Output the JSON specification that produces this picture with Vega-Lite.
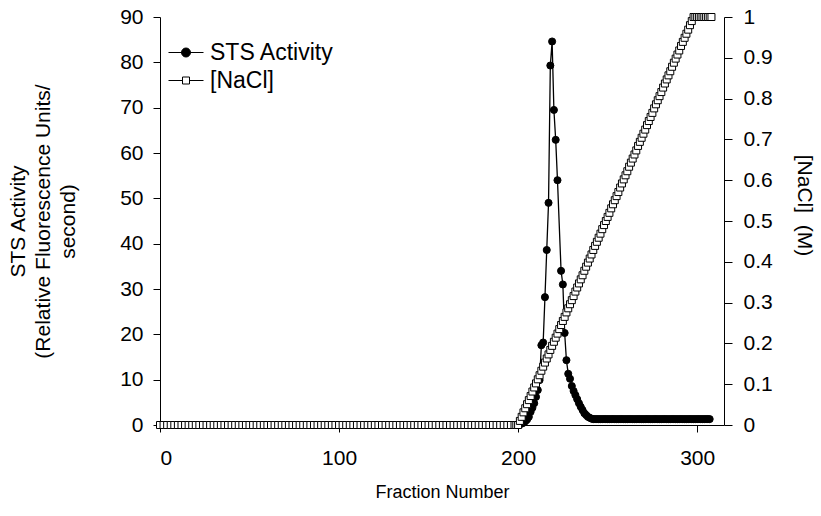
{
  "$schema": "https://vega.github.io/schema/vega-lite/v6.json",
  "width": 564,
  "height": 408,
  "autosize": "none",
  "padding": {"left": 160, "top": 17, "right": 97, "bottom": 91},
  "background": "white",
  "config": {
    "view": {"stroke": null},
    "font": "Liberation Sans",
    "axis": {
      "grid": false,
      "domainColor": "black",
      "tickColor": "black",
      "labelColor": "black",
      "titleColor": "black",
      "labelFont": "Liberation Sans",
      "titleFont": "Liberation Sans",
      "labelFontSize": 21,
      "titleFontSize": 21,
      "titleFontWeight": "normal",
      "domainWidth": 1,
      "tickWidth": 1
    },
    "legend": {
      "orient": "none",
      "title": null,
      "padding": 0,
      "labelFont": "Liberation Sans",
      "labelFontSize": 23,
      "labelColor": "black",
      "labelOffset": 12.5,
      "symbolSize": 100,
      "symbolStrokeWidth": 1,
      "symbolOpacity": 1
    }
  },
  "datasets": {
    "sts": [
      {"f":200,"s":0.1},{"f":201,"s":0.2},{"f":202,"s":0.3},{"f":203,"s":0.5},{"f":204,"s":0.8},
      {"f":205,"s":1.2},{"f":206,"s":1.8},{"f":207,"s":2.9},{"f":208,"s":3.8},{"f":209,"s":4.8},
      {"f":210,"s":6.2},{"f":211,"s":7.7},{"f":212,"s":9.9},{"f":213,"s":17.6},{"f":214,"s":18.2},
      {"f":215,"s":28.2},{"f":216,"s":38.6},{"f":217,"s":49.0},{"f":218,"s":79.3},{"f":219,"s":84.6},
      {"f":220,"s":69.5},{"f":221,"s":62.9},{"f":222,"s":54.0},{"f":224,"s":34.0},{"f":225,"s":31.0},
      {"f":226,"s":20.3},{"f":227,"s":14.3},{"f":228,"s":11.3},{"f":229,"s":10.2},{"f":230,"s":8.6},
      {"f":231,"s":7.5},{"f":232,"s":6.6},{"f":233,"s":5.7},{"f":234,"s":4.8},{"f":235,"s":4.0},
      {"f":236,"s":3.3},{"f":237,"s":2.6},{"f":238,"s":2.2},{"f":239,"s":1.8},{"f":240,"s":1.6},
      {"f":241,"s":1.4},{"f":242,"s":1.3},{"f":243,"s":1.3},{"f":244,"s":1.3},{"f":245,"s":1.3},
      {"f":246,"s":1.3},{"f":247,"s":1.3},{"f":248,"s":1.3},{"f":249,"s":1.3},{"f":250,"s":1.3},
      {"f":251,"s":1.3},{"f":252,"s":1.3},{"f":253,"s":1.3},{"f":254,"s":1.3},{"f":255,"s":1.3},
      {"f":256,"s":1.3},{"f":257,"s":1.3},{"f":258,"s":1.3},{"f":259,"s":1.3},{"f":260,"s":1.3},
      {"f":261,"s":1.3},{"f":262,"s":1.3},{"f":263,"s":1.3},{"f":264,"s":1.3},{"f":265,"s":1.3},
      {"f":266,"s":1.3},{"f":267,"s":1.3},{"f":268,"s":1.3},{"f":269,"s":1.3},{"f":270,"s":1.3},
      {"f":271,"s":1.3},{"f":272,"s":1.3},{"f":273,"s":1.3},{"f":274,"s":1.3},{"f":275,"s":1.3},
      {"f":276,"s":1.3},{"f":277,"s":1.3},{"f":278,"s":1.3},{"f":279,"s":1.3},{"f":280,"s":1.3},
      {"f":281,"s":1.3},{"f":282,"s":1.3},{"f":283,"s":1.3},{"f":284,"s":1.3},{"f":285,"s":1.3},
      {"f":286,"s":1.3},{"f":287,"s":1.3},{"f":288,"s":1.3},{"f":289,"s":1.3},{"f":290,"s":1.3},
      {"f":291,"s":1.3},{"f":292,"s":1.3},{"f":293,"s":1.3},{"f":294,"s":1.3},{"f":295,"s":1.3},
      {"f":296,"s":1.3},{"f":297,"s":1.3},{"f":298,"s":1.3},{"f":299,"s":1.3},{"f":300,"s":1.3},
      {"f":301,"s":1.3},{"f":302,"s":1.3},{"f":303,"s":1.3},{"f":304,"s":1.3},{"f":305,"s":1.3},
      {"f":306,"s":1.3},{"f":307,"s":1.3}
    ],
    "nacl": [
      {"f":0,"n":0},{"f":2,"n":0},{"f":4,"n":0},{"f":6,"n":0},{"f":8,"n":0},{"f":10,"n":0},{"f":12,"n":0},{"f":14,"n":0},{"f":16,"n":0},{"f":18,"n":0},
      {"f":20,"n":0},{"f":22,"n":0},{"f":24,"n":0},{"f":26,"n":0},{"f":28,"n":0},{"f":30,"n":0},{"f":32,"n":0},{"f":34,"n":0},{"f":36,"n":0},{"f":38,"n":0},
      {"f":40,"n":0},{"f":42,"n":0},{"f":44,"n":0},{"f":46,"n":0},{"f":48,"n":0},{"f":50,"n":0},{"f":52,"n":0},{"f":54,"n":0},{"f":56,"n":0},{"f":58,"n":0},
      {"f":60,"n":0},{"f":62,"n":0},{"f":64,"n":0},{"f":66,"n":0},{"f":68,"n":0},{"f":70,"n":0},{"f":72,"n":0},{"f":74,"n":0},{"f":76,"n":0},{"f":78,"n":0},
      {"f":80,"n":0},{"f":82,"n":0},{"f":84,"n":0},{"f":86,"n":0},{"f":88,"n":0},{"f":90,"n":0},{"f":92,"n":0},{"f":94,"n":0},{"f":96,"n":0},{"f":98,"n":0},
      {"f":100,"n":0},{"f":102,"n":0},{"f":104,"n":0},{"f":106,"n":0},{"f":108,"n":0},{"f":110,"n":0},{"f":112,"n":0},{"f":114,"n":0},{"f":116,"n":0},{"f":118,"n":0},
      {"f":120,"n":0},{"f":122,"n":0},{"f":124,"n":0},{"f":126,"n":0},{"f":128,"n":0},{"f":130,"n":0},{"f":132,"n":0},{"f":134,"n":0},{"f":136,"n":0},{"f":138,"n":0},
      {"f":140,"n":0},{"f":142,"n":0},{"f":144,"n":0},{"f":146,"n":0},{"f":148,"n":0},{"f":150,"n":0},{"f":152,"n":0},{"f":154,"n":0},{"f":156,"n":0},{"f":158,"n":0},
      {"f":160,"n":0},{"f":162,"n":0},{"f":164,"n":0},{"f":166,"n":0},{"f":168,"n":0},{"f":170,"n":0},{"f":172,"n":0},{"f":174,"n":0},{"f":176,"n":0},{"f":178,"n":0},
      {"f":180,"n":0},{"f":182,"n":0},{"f":184,"n":0},{"f":186,"n":0},{"f":188,"n":0},{"f":190,"n":0},{"f":192,"n":0},{"f":194,"n":0},{"f":196,"n":0},{"f":198,"n":0},
      {"f":199,"n":0},{"f":200,"n":0},
      {"f":201,"n":0.010},{"f":202,"n":0.020},{"f":203,"n":0.031},{"f":204,"n":0.041},{"f":205,"n":0.051},{"f":206,"n":0.061},{"f":207,"n":0.071},{"f":208,"n":0.082},{"f":209,"n":0.092},{"f":210,"n":0.102},
      {"f":211,"n":0.112},{"f":212,"n":0.122},{"f":213,"n":0.133},{"f":214,"n":0.143},{"f":215,"n":0.153},{"f":216,"n":0.163},{"f":217,"n":0.173},{"f":218,"n":0.184},{"f":219,"n":0.194},{"f":220,"n":0.204},
      {"f":221,"n":0.214},{"f":222,"n":0.224},{"f":223,"n":0.235},{"f":224,"n":0.245},{"f":225,"n":0.255},{"f":226,"n":0.265},{"f":227,"n":0.276},{"f":228,"n":0.286},{"f":229,"n":0.296},{"f":230,"n":0.306},
      {"f":231,"n":0.316},{"f":232,"n":0.327},{"f":233,"n":0.337},{"f":234,"n":0.347},{"f":235,"n":0.357},{"f":236,"n":0.367},{"f":237,"n":0.378},{"f":238,"n":0.388},{"f":239,"n":0.398},{"f":240,"n":0.408},
      {"f":241,"n":0.418},{"f":242,"n":0.429},{"f":243,"n":0.439},{"f":244,"n":0.449},{"f":245,"n":0.459},{"f":246,"n":0.469},{"f":247,"n":0.480},{"f":248,"n":0.490},{"f":249,"n":0.500},{"f":250,"n":0.510},
      {"f":251,"n":0.520},{"f":252,"n":0.531},{"f":253,"n":0.541},{"f":254,"n":0.551},{"f":255,"n":0.561},{"f":256,"n":0.571},{"f":257,"n":0.582},{"f":258,"n":0.592},{"f":259,"n":0.602},{"f":260,"n":0.612},
      {"f":261,"n":0.622},{"f":262,"n":0.633},{"f":263,"n":0.643},{"f":264,"n":0.653},{"f":265,"n":0.663},{"f":266,"n":0.673},{"f":267,"n":0.684},{"f":268,"n":0.694},{"f":269,"n":0.704},{"f":270,"n":0.714},
      {"f":271,"n":0.724},{"f":272,"n":0.735},{"f":273,"n":0.745},{"f":274,"n":0.755},{"f":275,"n":0.765},{"f":276,"n":0.776},{"f":277,"n":0.786},{"f":278,"n":0.796},{"f":279,"n":0.806},{"f":280,"n":0.816},
      {"f":281,"n":0.827},{"f":282,"n":0.837},{"f":283,"n":0.847},{"f":284,"n":0.857},{"f":285,"n":0.867},{"f":286,"n":0.878},{"f":287,"n":0.888},{"f":288,"n":0.898},{"f":289,"n":0.908},{"f":290,"n":0.918},
      {"f":291,"n":0.929},{"f":292,"n":0.939},{"f":293,"n":0.949},{"f":294,"n":0.959},{"f":295,"n":0.969},{"f":296,"n":0.980},{"f":297,"n":0.990},{"f":298,"n":1},
      {"f":299,"n":1},{"f":300,"n":1},{"f":301,"n":1},{"f":302,"n":1},{"f":303,"n":1},{"f":304,"n":1},{"f":305,"n":1},{"f":306,"n":1},{"f":307,"n":1},{"f":308,"n":1}
    ]
  },
  "layer": [
    {
      "data": {"name": "sts"},
      "layer": [
        {
          "mark": {"type": "line", "color": "black", "strokeWidth": 1.3},
          "encoding": {
            "x": {
              "field": "f", "type": "quantitative",
              "scale": {"domain": [0, 315], "nice": false, "zero": false},
              "axis": {
                "values": [0, 100, 200, 300],
                "tickSize": 7,
                "labelPadding": 15,
                "title": "Fraction Number",
                "titleFontSize": 18,
                "titleY": 67,
                "titleBaseline": "middle"
              }
            },
            "y": {
              "field": "s", "type": "quantitative",
              "scale": {"domain": [0, 90], "nice": false},
              "axis": {
                "values": [0, 10, 20, 30, 40, 50, 60, 70, 80, 90],
                "tickSize": 7,
                "labelPadding": 10,
                "title": ["STS Activity", "(Relative Fluorescence Units/", "second)"],
                "titleAngle": -90,
                "titleX": -142,
                "titleY": 204,
                "titleBaseline": "middle",
                "titleAlign": "center",
                "titleLineHeight": 25
              }
            }
          }
        },
        {
          "mark": {"type": "point", "shape": "circle", "filled": true, "fill": "black", "strokeWidth": 1, "size": 50, "opacity": 1},
          "encoding": {
            "x": {"field": "f", "type": "quantitative"},
            "y": {"field": "s", "type": "quantitative"},
            "stroke": {
              "datum": "STS Activity",
              "scale": {"domain": ["STS Activity"], "range": ["black"]},
              "legend": {
                "legendX": 14.5,
                "legendY": 24,
                "symbolType": "M-3.5,0H3.5M-0.9,0A0.9,0.9 0 1,1 0.9,0A0.9,0.9 0 1,1 -0.9,0Z",
                "symbolFillColor": "black",
                "symbolStrokeColor": "black"
              }
            }
          }
        }
      ]
    },
    {
      "data": {"name": "nacl"},
      "layer": [
        {
          "mark": {"type": "line", "color": "black", "strokeWidth": 1},
          "encoding": {
            "x": {"field": "f", "type": "quantitative"},
            "y": {
              "field": "n", "type": "quantitative",
              "scale": {"domain": [0, 1], "nice": false},
              "axis": {
                "orient": "right",
                "values": [0, 0.1, 0.2, 0.3, 0.4, 0.5, 0.6, 0.7, 0.8, 0.9, 1],
                "format": ".1~f",
                "tickSize": 8,
                "labelPadding": 11,
                "title": "[NaCl]\u00a0\u00a0(M)",
                "titleAngle": 90,
                "titleX": 79,
                "titleY": 188,
                "titleBaseline": "middle",
                "titleAlign": "center",
                "encode": {"ticks": {"x": {"value": -8}}}
              }
            }
          }
        },
        {
          "mark": {"type": "point", "shape": "square", "filled": true, "stroke": "black", "strokeWidth": 1, "size": 49, "opacity": 1},
          "encoding": {
            "x": {"field": "f", "type": "quantitative"},
            "y": {"field": "n", "type": "quantitative"},
            "fill": {
              "datum": "[NaCl]",
              "scale": {"domain": ["[NaCl]"], "range": ["white"]},
              "legend": {
                "legendX": 14.5,
                "legendY": 52,
                "symbolType": "M-3.5,0H-0.7M0.7,0H3.5M-0.7,-0.7H0.7V0.7H-0.7Z",
                "symbolStrokeColor": "black"
              }
            }
          }
        }
      ]
    }
  ],
  "resolve": {"scale": {"y": "independent"}}
}
